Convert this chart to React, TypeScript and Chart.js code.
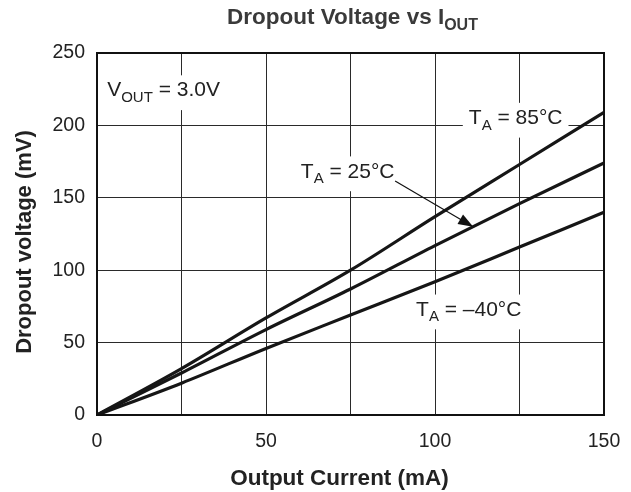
import React, { useEffect, useRef } from "react";
import { Chart, registerables } from "chart.js";

Chart.register(...registerables);

// ---- data ----
const currentMA = [0, 25, 50, 75, 100, 125, 150];
const dropout85C = [0, 32, 67, 100, 137, 173, 209];
const dropout25C = [0, 29, 59, 87, 117, 146, 174];
const dropoutM40C = [0, 22, 46, 69, 92, 116, 140];
const xTickLabels = [0, 50, 100, 150];
const yMin = 0;
const yMax = 250;
const yStep = 50;
const xMin = 0;
const xMax = 150;
const xStep = 25;

const titleParts: [string, boolean][] = [["Dropout Voltage vs I", false], ["OUT", true]];
const xTitle = "Output Current (mA)";
const yTitle = "Dropout voltage (mV)";

const labelVout: [string, boolean][] = [["V", false], ["OUT", true], [" = 3.0V", false]];
const label85: [string, boolean][] = [["T", false], ["A", true], [" = 85°C", false]];
const label25: [string, boolean][] = [["T", false], ["A", true], [" = 25°C", false]];
const labelM40: [string, boolean][] = [["T", false], ["A", true], [" = –40°C", false]];
// anchor (left, baseline) in data units
const annotationX = [3, 110, 60.3, 94.4];
const annotationY = [220, 201, 164, 68.6];
const annotationParts = [labelVout, label85, label25, labelM40];
const arrowFrom = [88.2, 161.6];
const arrowTo = [111.3, 130];

const FONT = '"Liberation Sans", Arial, Helvetica, sans-serif';

function toPoints(ys: number[]) {
  return currentMA.map((x, i) => ({ x, y: ys[i] }));
}

function partsWidth(ctx: CanvasRenderingContext2D, parts: [string, boolean][], size: number, sub: number, weight: string) {
  let w = 0;
  for (const [t, isSub] of parts) {
    ctx.font = `${weight} ${isSub ? sub : size}px ${FONT}`;
    w += ctx.measureText(t).width;
  }
  return w;
}

function drawParts(
  ctx: CanvasRenderingContext2D,
  parts: [string, boolean][],
  x: number,
  y: number,
  size: number,
  sub: number,
  weight: string,
  color: string
) {
  ctx.fillStyle = color;
  ctx.textBaseline = "alphabetic";
  ctx.textAlign = "left";
  let cx = x;
  for (const [t, isSub] of parts) {
    ctx.font = `${weight} ${isSub ? sub : size}px ${FONT}`;
    ctx.fillText(t, cx, isSub ? y + size * 0.27 : y);
    cx += ctx.measureText(t).width;
  }
}

const ANN_SIZE = 21;
const ANN_SUB = 15;

const textPlugin = {
  id: "customTexts",
  beforeDatasetsDraw(chart: any) {
    const ctx = chart.ctx as CanvasRenderingContext2D;
    const xs = chart.scales.x;
    const ys = chart.scales.y;
    ctx.save();
    ctx.fillStyle = "#ffffff";
    annotationParts.forEach((parts, i) => {
      const px = xs.getPixelForValue(annotationX[i]);
      const py = ys.getPixelForValue(annotationY[i]);
      const w = partsWidth(ctx, parts, ANN_SIZE, ANN_SUB, "normal");
      ctx.fillRect(px - 6, py - ANN_SIZE * 0.72 - 6, w + 12, ANN_SIZE * 0.72 + 6 + ANN_SIZE * 0.27 + 8);
    });
    ctx.restore();
  },
  afterDatasetsDraw(chart: any) {
    const ctx = chart.ctx as CanvasRenderingContext2D;
    const area = chart.chartArea;
    const xs = chart.scales.x;
    const ys = chart.scales.y;
    ctx.save();
    // plot frame
    ctx.strokeStyle = "#111111";
    ctx.lineWidth = 2;
    ctx.strokeRect(area.left, area.top, area.right - area.left, area.bottom - area.top);

    // annotations
    annotationParts.forEach((parts, i) => {
      const px = xs.getPixelForValue(annotationX[i]);
      const py = ys.getPixelForValue(annotationY[i]);
      drawParts(ctx, parts, px, py, ANN_SIZE, ANN_SUB, "normal", "#222222");
    });

    // arrow
    const fx = xs.getPixelForValue(arrowFrom[0]);
    const fy = ys.getPixelForValue(arrowFrom[1]);
    const tx = xs.getPixelForValue(arrowTo[0]);
    const ty = ys.getPixelForValue(arrowTo[1]);
    const ang = Math.atan2(ty - fy, tx - fx);
    const headLen = 15;
    const headHalf = 5.5;
    ctx.strokeStyle = "#111111";
    ctx.lineWidth = 1.2;
    ctx.beginPath();
    ctx.moveTo(fx, fy);
    ctx.lineTo(tx - Math.cos(ang) * headLen * 0.8, ty - Math.sin(ang) * headLen * 0.8);
    ctx.stroke();
    ctx.fillStyle = "#111111";
    ctx.beginPath();
    ctx.moveTo(tx, ty);
    const bx = tx - Math.cos(ang) * headLen;
    const by = ty - Math.sin(ang) * headLen;
    ctx.lineTo(bx + Math.sin(ang) * headHalf, by - Math.cos(ang) * headHalf);
    ctx.lineTo(bx - Math.sin(ang) * headHalf, by + Math.cos(ang) * headHalf);
    ctx.closePath();
    ctx.fill();

    // chart title
    const tSize = 22.5;
    const tSub = 16;
    const tw = partsWidth(ctx, titleParts, tSize, tSub, "bold");
    const tcx = (area.left + area.right) / 2 + 2;
    drawParts(ctx, titleParts, tcx - tw / 2, area.top - 29, tSize, tSub, "bold", "#3a3a3a");

    // x axis title
    ctx.font = `bold 22.5px ${FONT}`;
    ctx.fillStyle = "#222222";
    ctx.textAlign = "center";
    ctx.textBaseline = "alphabetic";
    ctx.fillText(xTitle, (area.left + area.right) / 2 - 11, area.bottom + 70);

    // y axis title
    ctx.translate(area.left - 66, (area.top + area.bottom) / 2 + 8);
    ctx.rotate(-Math.PI / 2);
    ctx.font = `bold 22px ${FONT}`;
    ctx.textAlign = "center";
    ctx.textBaseline = "alphabetic";
    ctx.fillText(yTitle, 0, 0);
    ctx.restore();
  },
};

export default function App() {
  const canvasRef = useRef<HTMLCanvasElement | null>(null);

  useEffect(() => {
    document.body.style.margin = "0";
    const canvas = canvasRef.current;
    if (!canvas) return;
    const lineStyle = {
      borderColor: "#161616",
      borderWidth: 3.2,
      pointRadius: 0,
      fill: false,
      cubicInterpolationMode: "monotone" as const,
    };
    const chart = new Chart(canvas, {
      type: "line",
      data: {
        datasets: [
          { label: "TA = 85°C", data: toPoints(dropout85C), ...lineStyle },
          { label: "TA = 25°C", data: toPoints(dropout25C), ...lineStyle },
          { label: "TA = –40°C", data: toPoints(dropoutM40C), ...lineStyle },
        ],
      },
      options: {
        responsive: false,
        animation: false,
        events: [],
        layout: { padding: { top: 53, right: 27, left: 0, bottom: 0 } },
        plugins: {
          legend: { display: false },
          title: { display: false },
          tooltip: { enabled: false },
        },
        scales: {
          x: {
            type: "linear",
            min: xMin,
            max: xMax,
            grid: { color: "#2a2a2a", lineWidth: 1, drawTicks: false },
            border: { display: false },
            ticks: {
              stepSize: xStep,
              padding: 15,
              color: "#222222",
              font: { family: FONT, size: 19.5 },
              maxRotation: 0,
              autoSkip: false,
              callback: (v: any) => (xTickLabels.includes(Number(v)) ? String(v) : ""),
            },
            afterFit: (scale: any) => {
              scale.height = 77;
              scale.paddingLeft = 0;
              scale.paddingRight = 0;
            },
          },
          y: {
            type: "linear",
            min: yMin,
            max: yMax,
            grid: { color: "#2a2a2a", lineWidth: 1, drawTicks: false },
            border: { display: false },
            ticks: {
              stepSize: yStep,
              padding: 12,
              color: "#222222",
              font: { family: FONT, size: 19.5 },
            },
            afterFit: (scale: any) => {
              scale.width = 97;
              scale.paddingTop = 0;
              scale.paddingBottom = 0;
            },
          },
        },
      },
      plugins: [textPlugin],
    });
    return () => chart.destroy();
  }, []);

  return (
    <div style={{ width: 631, height: 492, background: "#ffffff" }}>
      <canvas ref={canvasRef} width={631} height={492} />
    </div>
  );
}
